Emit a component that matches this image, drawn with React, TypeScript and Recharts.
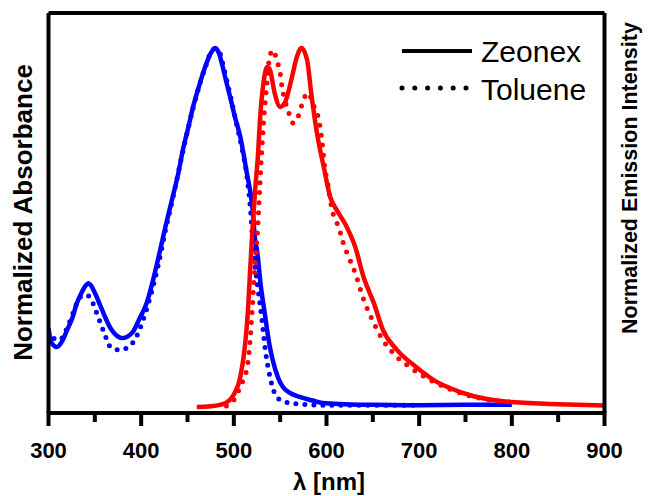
import { LineChart, Line, XAxis, YAxis, Legend, Label } from "recharts";

// absorption, Zeonex film (solid blue)
const zeonexAbsWl = [300, 303, 309, 314, 320, 326, 330, 336, 340, 343, 346, 350, 356, 361, 368, 374, 379, 385, 391, 398, 406, 412, 418, 426, 434, 440, 445, 451, 456, 462, 469, 475, 480, 484, 487, 491, 496, 501, 507, 514, 520, 523, 525, 529, 534, 538, 542, 548, 553, 560, 571, 585, 596, 620, 650, 700, 750, 800];
const zeonexAbs = [0.22, 0.18, 0.167, 0.18, 0.214, 0.25, 0.285, 0.32, 0.338, 0.345, 0.338, 0.318, 0.282, 0.251, 0.215, 0.198, 0.192, 0.196, 0.209, 0.245, 0.29, 0.345, 0.409, 0.5, 0.585, 0.65, 0.716, 0.78, 0.836, 0.89, 0.947, 0.985, 1.0, 0.985, 0.958, 0.915, 0.864, 0.81, 0.752, 0.652, 0.557, 0.465, 0.437, 0.34, 0.25, 0.18, 0.13, 0.08, 0.056, 0.04, 0.028, 0.018, 0.011, 0.008, 0.006, 0.005, 0.006, 0.006];

// absorption, toluene solution (dotted blue)
const tolueneAbsWl = [300, 305, 312, 320, 327, 334, 341, 345, 352, 359, 368, 377, 384, 393, 402, 411, 418, 426, 434, 445, 456, 469, 478, 484, 490, 496, 502, 508, 514, 518, 521, 526, 530, 534, 539, 544, 552, 571, 600, 650, 700];
const tolueneAbs = [0.21, 0.192, 0.187, 0.22, 0.265, 0.306, 0.312, 0.304, 0.262, 0.214, 0.164, 0.159, 0.164, 0.187, 0.242, 0.318, 0.39, 0.49, 0.58, 0.712, 0.832, 0.945, 0.997, 0.99, 0.935, 0.87, 0.8, 0.73, 0.645, 0.55, 0.437, 0.33, 0.251, 0.159, 0.084, 0.039, 0.017, 0.008, 0.005, 0.005, 0.005];

// emission, Zeonex film (solid red)
const zeonexEmWl = [460, 475, 485, 492, 500, 507, 512, 515, 518, 520, 523, 526, 528, 532, 536, 539, 544, 550, 555, 562, 568, 573, 579, 584, 591, 597, 604, 611, 622, 631, 640, 651, 661, 676, 697, 719, 733, 759, 795, 850, 900];
const zeonexEm = [0.0, 0.002, 0.006, 0.012, 0.035, 0.084, 0.17, 0.26, 0.4, 0.49, 0.604, 0.7, 0.791, 0.903, 0.947, 0.939, 0.875, 0.836, 0.847, 0.911, 0.975, 1.0, 0.967, 0.864, 0.744, 0.669, 0.585, 0.549, 0.501, 0.446, 0.362, 0.29, 0.214, 0.159, 0.111, 0.07, 0.053, 0.03, 0.015, 0.008, 0.004];

// emission, toluene solution (dotted red)
const tolueneEmWl = [492, 500, 505, 510, 515, 518, 521, 523, 526, 528, 530, 532, 536, 539, 543, 546, 550, 552, 555, 559, 564, 570, 575, 580, 586, 591, 595, 598, 602, 606, 611, 615, 618, 624, 631, 640, 650, 660, 672, 690, 712, 733, 759, 795, 800];
const tolueneEm = [0.003, 0.02, 0.045, 0.075, 0.12, 0.2, 0.32, 0.4, 0.51, 0.613, 0.708, 0.791, 0.911, 0.981, 0.994, 0.967, 0.93, 0.891, 0.855, 0.822, 0.791, 0.813, 0.855, 0.875, 0.841, 0.808, 0.744, 0.669, 0.613, 0.549, 0.515, 0.485, 0.457, 0.418, 0.373, 0.3, 0.24, 0.19, 0.15, 0.111, 0.075, 0.05, 0.028, 0.014, 0.013];

const xTicks = [300, 350, 400, 450, 500, 550, 600, 650, 700, 750, 800, 850, 900];
const legendNames = ["Zeonex", "Toluene"];

const FONT = "'Liberation Sans', Arial, Helvetica, sans-serif";
const BLUE = "#0000ff";
const RED = "#ff0000";
const yDomain: [number, number] = [-0.0167, 1.0975];

const toPoints = (wl: number[], v: number[]) => wl.map((x, i) => ({ x, y: v[i] }));

// tickSize is 0, so y is the axis line; draw the outward mark and the label
const XTick = (props: any) => {
  const { x, y, payload } = props;
  const major = payload.value % 100 === 0;
  return (
    <g>
      <path d={`M${x},${y - 2}V${y + (major ? 13 : 9)}`} stroke="#000" strokeWidth={4} />
      {major && (
        <text x={x} y={y + 45} textAnchor="middle" fontFamily={FONT} fontWeight="bold" fontSize={22} fill="#000">
          {payload.value}
        </text>
      )}
    </g>
  );
};

const ChartLegend = () => (
  <svg width={210} height={80} style={{ display: "block" }}>
    <line x1={7} x2={77} y1={26} y2={26} stroke="#000" strokeWidth={4} />
    <text x={86} y={37} fontFamily={FONT} fontSize={30} fill="#000">{legendNames[0]}</text>
    <line x1={7} x2={72} y1={63} y2={63} stroke="#000" strokeWidth={5} strokeDasharray="0 12.8" strokeLinecap="round" />
    <text x={86} y={75} fontFamily={FONT} fontSize={30} fill="#000">{legendNames[1]}</text>
  </svg>
);

const axisLine = { stroke: "#000", strokeWidth: 4 };

export default function App() {
  return (
    <div style={{ position: "absolute", left: 0, top: 0, width: 649, height: 496, background: "#fff" }}>
      <LineChart width={649} height={496} margin={{ top: 12, right: 43.5, bottom: 0, left: 47.5 }} style={{ overflow: "visible" }}>
        <XAxis
          type="number"
          dataKey="x"
          domain={[300, 900]}
          allowDataOverflow
          ticks={xTicks}
          interval={0}
          height={83}
          tickSize={0}
          tickMargin={0}
          tickLine={false}
          axisLine={axisLine}
          tick={<XTick />}
        >
          <Label
            content={() => (
              <text x={329} y={490} textAnchor="middle" fontFamily={FONT} fontWeight="bold" fontSize={24} fill="#000">
                λ [nm]
              </text>
            )}
          />
        </XAxis>
        <XAxis xAxisId="top" orientation="top" type="number" dataKey="x" domain={[300, 900]} allowDataOverflow height={1} tick={false} tickLine={false} axisLine={axisLine} />
        <YAxis type="number" domain={yDomain} allowDataOverflow width={1} tick={false} tickLine={false} axisLine={axisLine}>
          <Label
            content={() => (
              <text x={32} y={212.5} transform="rotate(-90 32 212.5)" textAnchor="middle" fontFamily={FONT} fontWeight="bold" fontSize={26} fill="#000">
                Normalized Absorbance
              </text>
            )}
          />
        </YAxis>
        <YAxis yAxisId="r" orientation="right" type="number" domain={yDomain} allowDataOverflow width={1} tick={false} tickLine={false} axisLine={axisLine}>
          <Label
            content={() => (
              <text x={637} y={178} transform="rotate(-90 637 178)" textAnchor="middle" fontFamily={FONT} fontWeight="bold" fontSize={21.5} fill="#000">
                Normalized Emission Intensity
              </text>
            )}
          />
        </YAxis>
        <Legend
          layout="horizontal"
          verticalAlign="middle"
          align="center"
          wrapperStyle={{ left: 395, top: 25, width: 210, height: 80 }}
          content={() => <ChartLegend />}
        />
        <Line data={toPoints(tolueneAbsWl, tolueneAbs)} dataKey="y" name="Toluene abs" type="monotone" stroke={BLUE} strokeWidth={5} strokeDasharray="0 9" strokeLinecap="round" dot={false} activeDot={false} isAnimationActive={false} />
        <Line data={toPoints(zeonexAbsWl, zeonexAbs)} dataKey="y" name="Zeonex abs" type="monotone" stroke={BLUE} strokeWidth={4.5} dot={false} activeDot={false} isAnimationActive={false} />
        <Line yAxisId="r" data={toPoints(tolueneEmWl, tolueneEm)} dataKey="y" name="Toluene em" type="monotone" stroke={RED} strokeWidth={5} strokeDasharray="0 10" strokeLinecap="round" dot={false} activeDot={false} isAnimationActive={false} />
        <Line yAxisId="r" data={toPoints(zeonexEmWl, zeonexEm)} dataKey="y" name="Zeonex em" type="monotone" stroke={RED} strokeWidth={4.5} dot={false} activeDot={false} isAnimationActive={false} />
      </LineChart>
    </div>
  );
}
